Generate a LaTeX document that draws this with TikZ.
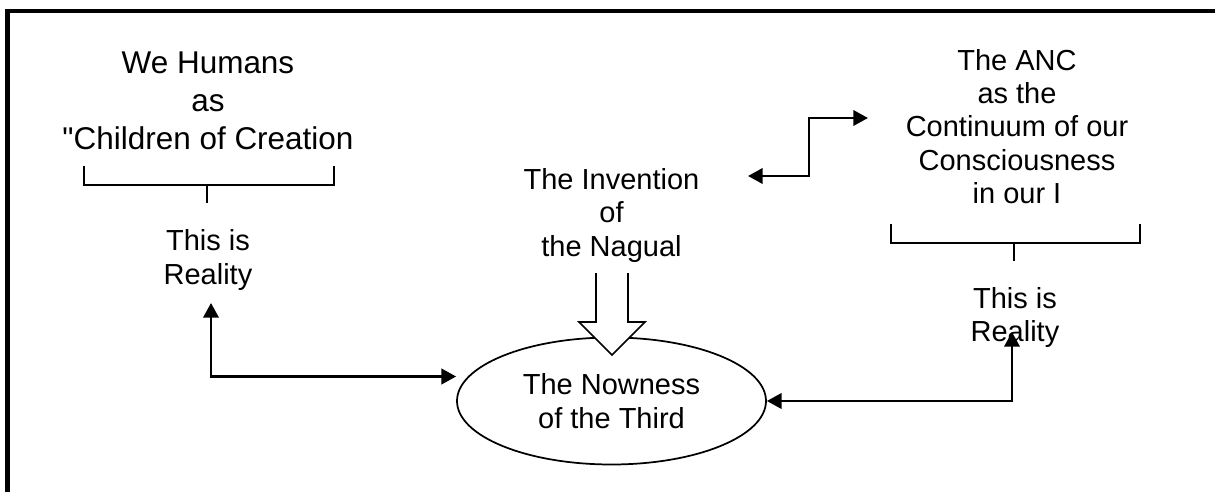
\documentclass[tikz,border=0pt]{standalone}
\usepackage{fontspec}
\setmainfont{Liberation Sans}
\usepackage{tikz}
\usetikzlibrary{arrows.meta}
\usetikzlibrary{calc,positioning,shapes.geometric}
\tikzset{
	>={Triangle[length=11pt,width=11.5pt]},
	label text/.style = {
			align     = center,
			inner sep = 0pt,
			font      = \fontsize{21.75}{25}\selectfont,
		},
	title text/.style = {
			label text,
			font      = \fontsize{23.6}{28.5}\selectfont,
		},
	link/.style = {line width=2pt, <->},
	brace line/.style = {line width=1.2pt},
}
% straight double quote, kept out of the TeX ligature mapping
\newcommand{\straightquote}{\XeTeXglyph\XeTeXcharglyph"0022\relax}

\begin{document}
\begin{tikzpicture}[x=0.75pt,y=-0.75pt]
	% Page frame (only the top and left edges are visible)
	\useasboundingbox (0,0) rectangle (1215,492);
	\draw[line width=3.2pt] (7.5,492) -- (7.5,11) -- (1215,11);

	% Left column
	\node[title text] (humans) at (208,100.5) {We Humans\\as\\\straightquote Children of Creation};
	\node[label text] (realL) at (208,260) {This is\\Reality};

	% Middle column
	\node[label text] (nagual) at (611.5,215.5) {The Invention\\of\\the Nagual};
	\node[label text, draw, ellipse, line width=1.3pt,
		minimum width=231.75pt, minimum height=95.25pt] (now) at (611.5,401) {The Nowness\\of the Third};

	% Right column
	\node[label text] (anc) at (1017,126.5) {The ANC\\as the\\Continuum of our\\Consciousness\\in our I};
	\node[label text] (realR) at (1015,317.5) {This is\\Reality};

	% Brackets under the headings
	\foreach \xa/\xb/\xm/\yb in {84/334/207/185, 891/1140/1014/243}
		{   \draw[brace line] (\xa,\yb-19) -- (\xa,\yb) -- (\xb,\yb) -- (\xb,\yb-19);
			\draw[brace line] (\xm,\yb) -- (\xm,\yb+18);
		}

	% Hollow arrow from the Nagual into the Nowness
	\filldraw[fill=white, line width=1.2pt] (596,273) -- (596,322) -- (579,322) -- (612,355)
		-- (645,322) -- (628,322) -- (628,273);

	% Connectors
	\draw[link] ($(realL.center)+(3,43)$) |- ($(now.west)+(0,-24.5)$);
	\draw[link] (now.east) -| ($(realR.center)+(-3,14.5)$);
	\coordinate (stepA) at (748,176);
	\coordinate (stepB) at (868,118);
	\draw[link] (stepA) -- ++(61,0) |- (stepB);
\end{tikzpicture}
\end{document}
